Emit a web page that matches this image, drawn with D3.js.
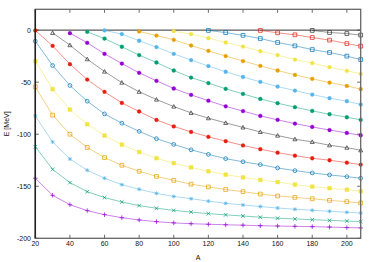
<!DOCTYPE html>
<html lang="en">
<head>
    <meta charset="UTF-8">
    <title>E vs A</title>
    <script src="https://d3js.org/d3.v7.min.js"></script>
    <style>
        body { margin: 0; background: #fff; }
        svg { display: block; }
        text { font-family: "Liberation Sans", Arial, sans-serif; font-size: 7px; fill: #111; }
    </style>
</head>
<body>
    <svg width="374" height="262"></svg>

    <script>
        // Mass numbers where levels were computed
        var A = [20, 30, 40, 50, 60, 70, 80, 90, 100, 110, 120, 130, 140, 150, 160, 170, 180, 190, 200, 208];

        // Level energies in MeV (series that start later begin at A[A.length - n])
        var e1 = [-142.3, -158.7, -167.7, -173.4, -177.3, -180.2, -182.4, -184, -185.2, -186, -186.5, -187, -187.4, -187.9, -188.2, -188.5, -188.8, -189.2, -189.7, -190];
        var e2 = [-112, -133.7, -146.5, -155.2, -160.9, -165.1, -168.6, -171.1, -173.2, -174.8, -176.3, -177.5, -178.6, -179.7, -180.7, -181.4, -182.1, -182.8, -183.4, -184];
        var e3 = [-82.4, -107.4, -123.8, -134.6, -142.3, -148.5, -152.9, -156.8, -159.8, -162, -164.3, -166.4, -168, -169.5, -170.9, -172.1, -173.1, -174, -175, -175.7];
        var e4 = [-54.5, -81.7, -100, -112.7, -122.5, -129.8, -135.6, -140.5, -144.4, -148, -150.7, -153.1, -155.2, -157.5, -159.3, -160.7, -162, -163.6, -164.8, -166];
        var e5 = [-29.8, -56.7, -76.3, -90.4, -101.3, -110, -117.1, -123.1, -127.8, -131.9, -135.6, -138.9, -141.5, -143.9, -146, -148.4, -150.4, -151.9, -153.3, -154.8];
        var e6 = [-10.6, -34, -53.2, -68.3, -80.5, -89.4, -97.3, -104.3, -109.8, -115, -119.4, -123.5, -126.5, -129.2, -132.4, -135, -137.2, -139.1, -140.8, -142.3];
        var e7 = [-0.3, -15.1, -32.7, -47.5, -59.3, -69.9, -78.2, -86.3, -92.5, -97.8, -102.5, -106.7, -110.8, -114.4, -117.7, -120.6, -123.1, -125, -127.3, -129.2];
        var e8 = [-2.6, -14.4, -27.9, -39.8, -50.4, -59.2, -66.7, -73.4, -79.5, -84.6, -89.1, -93.5, -97.8, -101.3, -104.8, -107.4, -110.6, -112.9, -115.4];
        var e9 = [-2.9, -12.2, -22.8, -32.1, -41, -48.7, -56.1, -62.2, -67.8, -73.2, -77.8, -82.4, -86.2, -89.8, -93, -96, -98.8, -101];
        var e10 = [-1.6, -8.1, -16, -24, -31.1, -38.8, -45.6, -50.9, -56.4, -61.3, -66.1, -70.2, -74, -77.6, -80.8, -83.7, -86.2];
        var e11 = [-0.3, -3.8, -10.2, -16.3, -22.8, -28.8, -34.5, -40, -45, -49.7, -54.2, -58.1, -61.9, -65.4, -68.3, -71.5];
        var e12 = [-1.3, -5.2, -9.3, -14.8, -19.9, -24.9, -29.7, -34.3, -38.8, -43, -46.8, -50.4, -53.6, -56.7];
        var e13 = [-1, -3.8, -7.7, -11.9, -15.8, -20.2, -24, -28.3, -31.7, -35.6, -39.1, -42];
        var e14 = [-0.3, -2.4, -5, -8.1, -11.9, -15.1, -18.7, -21.5, -25, -28.3];
        var e15 = [-0.3, -2.6, -4.5, -7.1, -9.6, -12.9, -15.4];
        var e16 = [-0.3, -2.3, -3.3, -4.8];

        var xTicks = [20, 40, 60, 80, 100, 120, 140, 160, 180, 200];
        var yTicks = [-200, -150, -100, -50, 0];

        // gnuplot-like colours and point types
        var purple = "#9400d3", green = "#009e73", sky = "#56b4e9", orange = "#e69f00",
            yellow = "#f0e442", blue = "#0072b2", red = "#e51e10", black = "#333333";
        var series = [
            {e: e1, c: purple, pt: "plus"},
            {e: e2, c: green, pt: "cross"},
            {e: e3, c: sky, pt: "star"},
            {e: e4, c: orange, pt: "osquare"},
            {e: e5, c: yellow, pt: "fsquare"},
            {e: e6, c: blue, pt: "ocircle"},
            {e: e7, c: red, pt: "fcircle"},
            {e: e8, c: black, pt: "otri"},
            {e: e9, c: purple, pt: "fcircle"},
            {e: e10, c: green, pt: "fcircle"},
            {e: e11, c: sky, pt: "fcircle"},
            {e: e12, c: orange, pt: "fcircle"},
            {e: e13, c: yellow, pt: "fcircle"},
            {e: e14, c: blue, pt: "osquare"},
            {e: e15, c: red, pt: "osquare"},
            {e: e16, c: black, pt: "osquare"}
        ];

        var svg = d3.select("svg"),
            pLeft = 35.3, pRight = 360.7, pTop = 9.3, pBottom = 238.3;

        var x = d3.scaleLinear().domain([20, 208]).range([pLeft, pRight]);
        var y = d3.scaleLinear().domain([-200, 20]).range([pBottom, pTop]);

        // ticks, mirrored inwards on all four sides
        var tk = 3.5;
        var ax = svg.append("g").attr("stroke", "#444").attr("stroke-width", 0.8);
        xTicks.forEach(function(t) {
            ax.append("line").attr("x1", x(t)).attr("x2", x(t)).attr("y1", pBottom).attr("y2", pBottom - tk);
            ax.append("line").attr("x1", x(t)).attr("x2", x(t)).attr("y1", pTop).attr("y2", pTop + tk);
        });
        yTicks.forEach(function(t) {
            ax.append("line").attr("x1", pLeft).attr("x2", pLeft + tk).attr("y1", y(t)).attr("y2", y(t));
            ax.append("line").attr("x1", pRight).attr("x2", pRight - tk).attr("y1", y(t)).attr("y2", y(t));
        });

        // zero line
        svg.append("line")
            .attr("x1", pLeft).attr("x2", pRight).attr("y1", y(0)).attr("y2", y(0))
            .attr("stroke", "#333").attr("stroke-width", 1);

        svg.selectAll(".xl").data(xTicks).enter().append("text")
            .attr("x", function(d) { return x(d); })
            .attr("y", 245.5)
            .attr("text-anchor", "middle")
            .text(function(d) { return d; });

        svg.selectAll(".yl").data(yTicks).enter().append("text")
            .attr("x", 31)
            .attr("y", function(d) { return y(d) + 2.5; })
            .attr("text-anchor", "end")
            .text(function(d) { return d; });

        svg.append("text").attr("x", (pLeft + pRight) / 2).attr("y", 259.5)
            .attr("text-anchor", "middle").text("A");
        svg.append("text")
            .attr("transform", "translate(8.8," + (pTop + pBottom) / 2 + ") rotate(-90)")
            .attr("text-anchor", "middle").text("E [MeV]");

        function marker(pt, px, py) {
            var s;
            switch (pt) {
                case "plus": s = 2.3;
                    return "M" + (px - s) + "," + py + "H" + (px + s) + "M" + px + "," + (py - s) + "V" + (py + s);
                case "cross": s = 1.8;
                    return "M" + (px - s) + "," + (py - s) + "L" + (px + s) + "," + (py + s) +
                           "M" + (px - s) + "," + (py + s) + "L" + (px + s) + "," + (py - s);
                case "star": s = 2;
                    return "M" + (px - s) + "," + py + "H" + (px + s) + "M" + px + "," + (py - s) + "V" + (py + s) +
                           "M" + (px - 1.5) + "," + (py - 1.5) + "L" + (px + 1.5) + "," + (py + 1.5) +
                           "M" + (px - 1.5) + "," + (py + 1.5) + "L" + (px + 1.5) + "," + (py - 1.5);
                case "osquare": case "fsquare": s = 1.9;
                    return "M" + (px - s) + "," + (py - s) + "h" + 2 * s + "v" + 2 * s + "h" + (-2 * s) + "Z";
                case "ocircle": case "fcircle": s = 1.9;
                    return "M" + (px - s) + "," + py + "a" + s + "," + s + " 0 1,0 " + 2 * s + ",0a" + s + "," + s + " 0 1,0 " + (-2 * s) + ",0";
                case "otri": s = 2;
                    return "M" + px + "," + (py - s) + "L" + (px + s) + "," + (py + s * 0.8) + "L" + (px - s) + "," + (py + s * 0.8) + "Z";
            }
        }

        var line = d3.line()
            .x(function(d) { return x(d[0]); })
            .y(function(d) { return y(d[1]); })
            .curve(d3.curveLinear);

        series.forEach(function(s) {
            var pts = s.e.map(function(v, i) { return [A[A.length - s.e.length + i], v]; });
            var g = svg.append("g");
            g.append("path").datum(pts)
                .attr("d", line)
                .attr("fill", "none")
                .attr("stroke", s.c)
                .attr("stroke-opacity", 0.55)
                .attr("stroke-width", 0.9);
            var filled = s.pt.charAt(0) === "f";
            g.selectAll("path.m").data(pts).enter().append("path")
                .attr("class", "m")
                .attr("d", function(d) { return marker(s.pt, x(d[0]), y(d[1])); })
                .attr("fill", filled ? s.c : "none")
                .attr("stroke", s.c)
                .attr("stroke-opacity", 0.9)
                .attr("stroke-width", filled ? 0.4 : 0.8);
        });

        // border
        svg.append("rect")
            .attr("x", pLeft).attr("y", pTop)
            .attr("width", pRight - pLeft).attr("height", pBottom - pTop)
            .attr("fill", "none").attr("stroke", "#666").attr("stroke-width", 1.3);
        svg.append("line")
            .attr("x1", pLeft).attr("x2", pLeft).attr("y1", pTop).attr("y2", pBottom)
            .attr("stroke", "#222").attr("stroke-width", 1.5);
    </script>
</body>
</html>
